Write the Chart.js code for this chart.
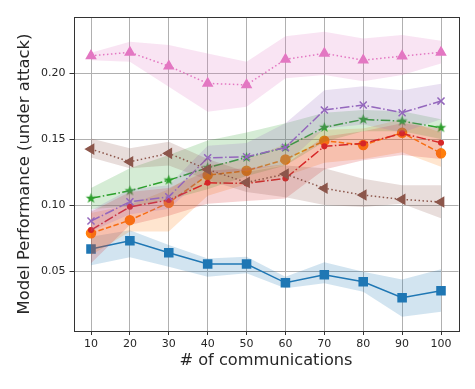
<!DOCTYPE html>
<html>
<head>
<meta charset="utf-8">
<script src="https://cdn.jsdelivr.net/npm/chart.js@4/dist/chart.umd.min.js"></script>
<style>
html,body{margin:0;padding:0;background:#fff;}
#wrap{width:475px;height:389px;position:relative;}
</style>
</head>
<body>
<div id="wrap"><canvas id="c" width="475" height="389"></canvas></div>
<script>
const communications = [10, 20, 30, 40, 50, 60, 70, 80, 90, 100];
const xTicks = [10, 20, 30, 40, 50, 60, 70, 80, 90, 100];
const yTicks = [0.05, 0.10, 0.15, 0.20];

const blueMean  = [0.0667,0.0730,0.0639,0.0553,0.0553,0.0411,0.0472,0.0419,0.0298,0.0351];
const blueUpper = [0.0760,0.0810,0.0697,0.0596,0.0609,0.0457,0.0566,0.0495,0.0437,0.0513];
const blueLower = [0.0545,0.0604,0.0533,0.0457,0.0483,0.0369,0.0407,0.0343,0.0154,0.0192];

const orangeMean  = [0.0786,0.0886,0.1018,0.1227,0.1260,0.1346,0.1487,0.1455,0.1548,0.1392];
const orangeUpper = [0.0940,0.1000,0.1120,0.1300,0.1350,0.1460,0.1570,0.1580,0.1650,0.1550];
const orangeLower = [0.0620,0.0800,0.0800,0.1070,0.1160,0.1220,0.1320,0.1350,0.1400,0.1290];

const greenMean  = [0.1051,0.1108,0.1189,0.1283,0.1361,0.1437,0.1589,0.1649,0.1636,0.1586];
const greenUpper = [0.1130,0.1280,0.1380,0.1490,0.1550,0.1620,0.1700,0.1720,0.1710,0.1650];
const greenLower = [0.0970,0.0990,0.1040,0.1120,0.1220,0.1300,0.1480,0.1560,0.1560,0.1500];

const redMean  = [0.0811,0.0987,0.1038,0.1169,0.1164,0.1202,0.1445,0.1467,0.1543,0.1472];
const redUpper = [0.0950,0.1100,0.1130,0.1260,0.1280,0.1310,0.1520,0.1560,0.1620,0.1580];
const redLower = [0.0560,0.0850,0.0920,0.1010,0.1030,0.1050,0.1270,0.1340,0.1380,0.1350];

const purpleMean  = [0.0879,0.1025,0.1063,0.1358,0.1366,0.1437,0.1720,0.1758,0.1700,0.1788];
const purpleUpper = [0.0960,0.1120,0.1150,0.1450,0.1470,0.1620,0.1870,0.1900,0.1870,0.1920];
const purpleLower = [0.0800,0.0930,0.0970,0.1240,0.1260,0.1310,0.1580,0.1610,0.1550,0.1650];

const brownMean  = [0.1424,0.1328,0.1392,0.1270,0.1172,0.1235,0.1127,0.1076,0.1043,0.1023];
const brownUpper = [0.1505,0.1430,0.1480,0.1350,0.1250,0.1300,0.1280,0.1200,0.1150,0.1150];
const brownLower = [0.1360,0.1280,0.1300,0.1190,0.1100,0.1060,0.1000,0.0985,0.1010,0.0900];

const pinkMean  = [0.2131,0.2157,0.2053,0.1922,0.1911,0.2104,0.2149,0.2098,0.2129,0.2157];
const pinkUpper = [0.2154,0.2237,0.2212,0.2149,0.2086,0.2280,0.2313,0.2263,0.2288,0.2245];
const pinkLower = [0.2098,0.2086,0.1896,0.1707,0.1745,0.1960,0.1985,0.1939,0.1985,0.2073];

function hexA(hex, a) {
  const n = parseInt(hex.slice(1), 16);
  return `rgba(${(n>>16)&255},${(n>>8)&255},${n&255},${a})`;
}
function makeStar(color, R) {
  const c = document.createElement('canvas');
  const s = Math.ceil(R * 2 + 2);
  c.width = s; c.height = s;
  const g = c.getContext('2d');
  g.beginPath();
  for (let i = 0; i < 10; i++) {
    const r = i % 2 === 0 ? R : R * 0.42;
    const a = -Math.PI / 2 + i * Math.PI / 5;
    const px = s / 2 + r * Math.cos(a), py = s / 2 + r * Math.sin(a);
    if (i === 0) g.moveTo(px, py); else g.lineTo(px, py);
  }
  g.closePath();
  g.fillStyle = color; g.fill();
  return c;
}
const pts = arr => arr.map((v, i) => ({x: communications[i], y: v}));

const series = [
  {mean: blueMean, up: blueUpper, lo: blueLower, color: '#1f77b4', dash: [], style: 'rect', radius: 5.7, rot: 0},
  {mean: orangeMean, up: orangeUpper, lo: orangeLower, color: '#ff7f0e', dash: [5.5, 2.4], style: 'circle', radius: 4.5, rot: 0},
  {mean: greenMean, up: greenUpper, lo: greenLower, color: '#2ca02c', dash: [9.6, 2.4, 1.5, 2.4], style: makeStar('#2ca02c', 5.5), radius: 5, rot: 0},
  {mean: redMean, up: redUpper, lo: redLower, color: '#d62728', dash: [9.6, 2.4, 1.5, 2.4], style: 'circle', radius: 2.3, rot: 0},
  {mean: purpleMean, up: purpleUpper, lo: purpleLower, color: '#9467bd', dash: [9.6, 2.4, 1.5, 2.4], style: 'crossRot', radius: 5, rot: 0},
  {mean: brownMean, up: brownUpper, lo: brownLower, color: '#8c564b', dash: [1.5, 2.5], style: 'triangle', radius: 5.2, rot: -90},
  {mean: pinkMean, up: pinkUpper, lo: pinkLower, color: '#e377c2', dash: [1.5, 2.5], style: 'triangle', radius: 5.2, rot: 0}
];

const datasets = [];
series.slice().reverse().forEach(s => {
  const base = datasets.length;
  datasets.push({
    data: pts(s.mean), borderColor: s.color, backgroundColor: s.color,
    borderWidth: 1.5, borderDash: s.dash, fill: false, tension: 0,
    pointStyle: s.style, pointRadius: s.radius, pointRotation: s.rot,
    pointBackgroundColor: s.color, pointBorderColor: s.color, pointBorderWidth: 1.5
  });
  datasets.push({
    data: pts(s.up), borderWidth: 0, pointRadius: 0, borderColor: 'rgba(0,0,0,0)',
    backgroundColor: hexA(s.color, 0.2), fill: base + 2, tension: 0
  });
  datasets.push({
    data: pts(s.lo), borderWidth: 0, pointRadius: 0, borderColor: 'rgba(0,0,0,0)',
    fill: false, tension: 0
  });
});

const boxPlugin = {
  id: 'box',
  afterDraw(chart) {
    const {ctx, chartArea: a} = chart;
    ctx.save();
    ctx.strokeStyle = '#333';
    ctx.lineWidth = 1;
    ctx.strokeRect(Math.round(a.left) + 0.5, Math.round(a.top) + 0.5,
      Math.round(a.right - a.left), Math.round(a.bottom - a.top));
    ctx.restore();
  }
};

const fontFam = '"DejaVu Sans", sans-serif';
new Chart(document.getElementById('c'), {
  type: 'line',
  data: {datasets},
  plugins: [boxPlugin],
  options: {
    responsive: false,
    animation: false,
    layout: {padding: {left: 0, right: 16.5, top: 17, bottom: 0}},
    plugins: {legend: {display: false}, tooltip: {enabled: false}},
    scales: {
      x: {
        type: 'linear', min: 5.5, max: 104.5,
        afterBuildTicks: sc => { sc.ticks = xTicks.map(v => ({value: v})); },
        afterFit: sc => { sc.height = 58; },
        grid: {color: '#b0b0b0', lineWidth: 1, tickLength: 4, tickColor: '#333', drawTicks: true},
        border: {display: false},
        ticks: {color: '#262626', font: {family: fontFam, size: 11}, padding: 3, maxRotation: 0,
          callback: v => String(v)},
        title: {display: true, text: '# of communications', color: '#262626',
          font: {family: fontFam, size: 16.2}, padding: {top: 0, bottom: 18}}
      },
      y: {
        type: 'linear', min: 0.0046, max: 0.2425,
        afterBuildTicks: sc => { sc.ticks = yTicks.map(v => ({value: v})); },
        afterFit: sc => { sc.width = 73.5; },
        grid: {color: '#b0b0b0', lineWidth: 1, tickLength: 4, tickColor: '#333', drawTicks: true},
        border: {display: false},
        ticks: {color: '#262626', font: {family: fontFam, size: 11}, padding: 4,
          callback: v => v.toFixed(2)},
        title: {display: true, text: 'Model Performance (under attack)', color: '#262626',
          font: {family: fontFam, size: 16.4}, padding: {top: 15, bottom: 0}}
      }
    }
  }
});
</script>
</body>
</html>
